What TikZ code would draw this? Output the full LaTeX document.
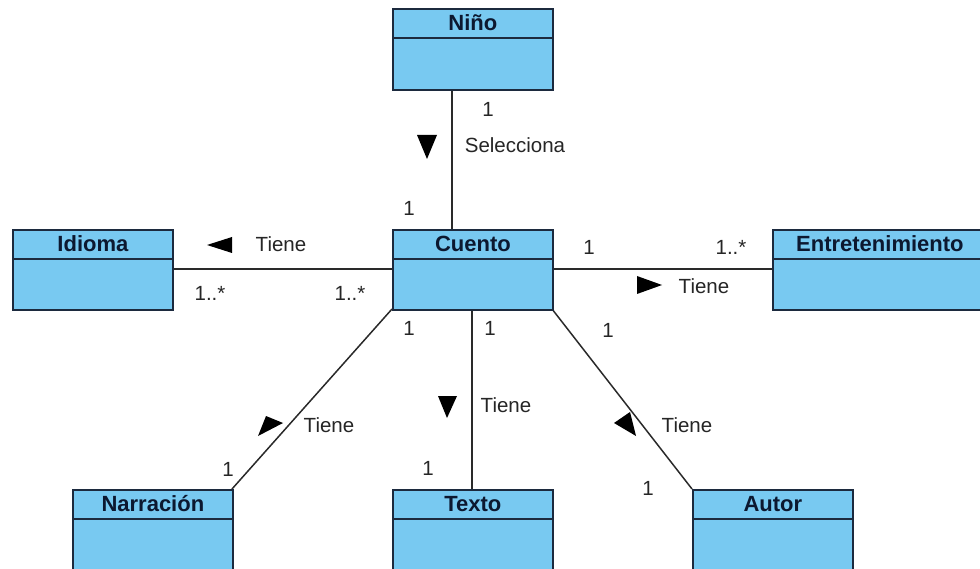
\documentclass[tikz,border=0pt]{standalone}
\usepackage{fontspec}
\setmainfont{Liberation Sans}
\definecolor{boxfill}{HTML}{78C9F1}
\definecolor{boxline}{HTML}{1C2A3E}
\definecolor{titlecol}{HTML}{0C1830}
\definecolor{linecol}{HTML}{2A2A2A}
\tikzset{
  umlbox/.style={draw=boxline, fill=boxfill, line width=1.8pt, rectangle, anchor=north west, minimum width=160pt, minimum height=80pt, inner sep=0pt},
  umltitle/.style={font=\fontsize{22}{25}\selectfont\bfseries, text=titlecol, anchor=center, inner sep=0pt},
  assoc/.style={draw=linecol, line width=1.5pt},
  lbl/.style={font=\fontsize{20.5}{23}\selectfont, text=black!85, anchor=center, inner sep=0pt},
  tri/.style={fill=black},
}
\newcommand{\umlclass}[5]{%
  \node[umlbox, minimum width=#4pt, minimum height=#5pt] (#1) at #2 {};
  \node[umltitle] (#1t) at ([yshift=-15pt]#1.north) {#3};
  \draw[boxline, line width=1.8pt] ([yshift=-30pt]#1.north west) -- ([yshift=-30pt]#1.north east);
}
\begin{document}
\begin{tikzpicture}[x=1pt,y=-1pt]
\useasboundingbox (0,0) rectangle (980,569);
\clip (0,0) rectangle (980,569);
\fill[white] (0,0) rectangle (980,569);

% connectors (drawn first, boxes on top)
\coordinate (ninobot) at (452,89);
\coordinate (cuentotop) at (452,229);
\draw[assoc] (ninobot) -- (cuentotop);
\draw[assoc] (172,269) coordinate (idr) -- (392,269) coordinate (cul);
\draw[assoc] (552,269) coordinate (cur) -- (772,269) coordinate (enl);
\draw[assoc] (392,309) coordinate (cusw) -- (232,489) coordinate (nane);
\draw[assoc] (472,309) coordinate (cus) -- (472,489) coordinate (ten);
\draw[assoc] (552,309) coordinate (cuse) -- (692,489) coordinate (aunw);

% classes
\umlclass{nino}{(392,8)}{Niño}{160}{81}
\umlclass{cuento}{(392,229)}{Cuento}{160}{80}
\umlclass{idioma}{(12,229)}{Idioma}{160}{80}
\umlclass{entre}{(772,229)}{Entretenimiento}{214}{80}
\umlclass{narr}{(72,489)}{Narración}{160}{84}
\umlclass{texto}{(392,489)}{Texto}{160}{84}
\umlclass{autor}{(692,489)}{Autor}{160}{84}

% direction triangles
\fill[tri] (417,135) -- (437,135) -- (427,159) -- cycle;
\fill[tri] (207,245) -- (232,237) -- (232,253) -- cycle;
\fill[tri] (662,285) -- (637,276) -- (637,294) -- cycle;
\fill[tri] (438,396) -- (457,396) -- (447,418) -- cycle;
\fill[tri] (283,423) -- (258,436) -- (266,416) -- cycle;
\fill[tri] (614,423) -- (630,412) -- (636,436) -- cycle;

% labels
\node[lbl] (l1) at (488,109) {1};
\node[lbl] (l2) at (515,145) {Selecciona};
\node[lbl] (l3) at (409,208) {1};
\node[lbl] (l4) at (281,244) {Tiene};
\node[lbl] (l5) at (210,293) {1..*};
\node[lbl] (l6) at (350,293) {1..*};
\node[lbl] (l7) at (589,247) {1};
\node[lbl] (l8) at (731,247) {1..*};
\node[lbl] (l9) at (704,286) {Tiene};
\node[lbl] (l10) at (409,328) {1};
\node[lbl] (l11) at (490,328) {1};
\node[lbl] (l12) at (608,330) {1};
\node[lbl] (l13) at (329,425) {Tiene};
\node[lbl] (l14) at (228,469) {1};
\node[lbl] (l15) at (506,405) {Tiene};
\node[lbl] (l16) at (428,468) {1};
\node[lbl] (l17) at (687,425) {Tiene};
\node[lbl] (l18) at (648,488) {1};
\end{tikzpicture}
\end{document}
